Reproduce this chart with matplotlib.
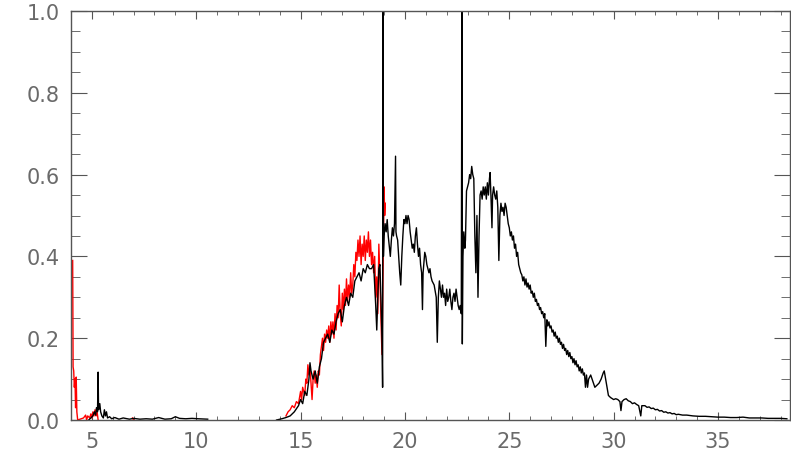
import numpy as np
import matplotlib
matplotlib.use("Agg")
import matplotlib.pyplot as plt
from matplotlib.ticker import MultipleLocator, FormatStrFormatter

nan = np.nan

# black spectrum, short-wavelength piece
black_a_x = [4.85, 4.95, 5.05, 5.12, 5.18, 5.22, 5.27, 5.30, 5.32, 5.38, 5.42, 5.48,
             5.55, 5.60, 5.65, 5.70, 5.75, 5.85, 5.95, 6.1, 6.3, 6.5, 6.8, 7.0, 7.3,
             7.6, 7.9, 8.2, 8.5, 8.8, 9.0, 9.2, 9.5, 9.8, 10.1, 10.55]
black_a_y = [0.0, 0.005, 0.01, 0.02, 0.012, 0.03, 0.02, 0.117, 0.025, 0.04, 0.02, 0.01,
             0.005, 0.025, 0.01, 0.02, 0.005, 0.008, 0.003, 0.006, 0.002, 0.005, 0.002,
             0.004, 0.002, 0.003, 0.002, 0.006, 0.002, 0.003, 0.008, 0.004, 0.003,
             0.004, 0.003, 0.002]

# black spectrum, rise and peak region
black_b_x = [13.85, 14.1, 14.3, 14.5, 14.7, 14.9, 15.0, 15.1, 15.2, 15.3, 15.4, 15.45,
             15.5, 15.6, 15.7, 15.8, 15.9, 16.0, 16.1, 16.2, 16.3, 16.4, 16.5, 16.6,
             16.7, 16.8, 16.9, 17.0, 17.1, 17.2, 17.3, 17.4, 17.5, 17.6, 17.7, 17.8,
             17.9, 18.0, 18.1, 18.2, 18.3, 18.4, 18.5, 18.55, 18.6, 18.65, 18.7, 18.75,
             18.8, 18.85, 18.9, 18.93, 18.95, 18.97, 19.0, 19.05, 19.1, 19.15, 19.2,
             19.3, 19.35, 19.4, 19.45, 19.5, 19.55, 19.57, 19.6, 19.65, 19.7, 19.75,
             19.8, 19.85, 19.9, 19.95, 20.0, 20.05, 20.1, 20.15, 20.2, 20.25, 20.3,
             20.35, 20.4, 20.45, 20.5, 20.55, 20.6, 20.65, 20.7, 20.75, 20.8, 20.84,
             20.87, 20.95, 21.0, 21.05, 21.1, 21.15, 21.2, 21.25, 21.3, 21.4, 21.5,
             21.55, 21.6, 21.65, 21.7, 21.75, 21.8, 21.85, 21.9, 21.95, 22.0, 22.05,
             22.1, 22.15, 22.2, 22.25, 22.3, 22.35, 22.4, 22.45, 22.5, 22.55, 22.6,
             22.65, 22.7, 22.73, 22.75, 22.78, 22.82, 22.87, 22.9, 22.95, 23.0, 23.05,
             23.1, 23.15, 23.2, 23.25, 23.3, 23.35, 23.4, 23.45, 23.5, 23.55, 23.6,
             23.65, 23.7, 23.75, 23.8, 23.85, 23.9, 23.95, 24.0, 24.05, 24.08, 24.12,
             24.17, 24.2, 24.25, 24.3, 24.35, 24.4, 24.45, 24.5, 24.55, 24.6, 24.65,
             24.7, 24.75, 24.8, 24.85, 24.9, 24.95]
black_b_y = [0.0, 0.003, 0.006, 0.01, 0.02, 0.035, 0.05, 0.04, 0.07, 0.06, 0.10, 0.14,
             0.12, 0.10, 0.12, 0.09, 0.13, 0.15, 0.19, 0.20, 0.21, 0.19, 0.22, 0.21,
             0.24, 0.26, 0.27, 0.24, 0.28, 0.30, 0.28, 0.31, 0.30, 0.34, 0.35, 0.36,
             0.34, 0.37, 0.36, 0.38, 0.37, 0.37, 0.38, 0.33, 0.28, 0.22, 0.30, 0.37,
             0.38, 0.30, 0.20, 0.08, 1.0, 0.40, 0.45, 0.48, 0.46, 0.49, 0.45,
             0.40, 0.44, 0.47, 0.45, 0.48, 0.645, 0.46, 0.45, 0.44, 0.40, 0.36,
             0.33, 0.40, 0.45, 0.49, 0.48, 0.50, 0.48, 0.50, 0.49, 0.46, 0.44,
             0.42, 0.43, 0.41, 0.45, 0.47, 0.43, 0.40, 0.42, 0.38, 0.36, 0.27,
             0.36, 0.41, 0.40, 0.38, 0.37, 0.36, 0.37, 0.35, 0.34, 0.33, 0.30,
             0.19, 0.30, 0.34, 0.32, 0.30, 0.33, 0.30, 0.31, 0.28, 0.32, 0.29,
             0.30, 0.32, 0.29, 0.27, 0.30, 0.31, 0.29, 0.32, 0.30, 0.28, 0.27,
             0.28, 0.26, 1.0, 0.186, 0.40, 0.46, 0.42, 0.44, 0.56, 0.57, 0.58,
             0.60, 0.59, 0.62, 0.60, 0.59, 0.45, 0.36, 0.50, 0.30, 0.45, 0.55,
             0.56, 0.54, 0.57, 0.55, 0.57, 0.54, 0.58, 0.55, 0.59, 0.605, 0.55,
             0.47, 0.55, 0.57, 0.55, 0.54, 0.56, 0.52, 0.39, 0.50, 0.53, 0.51,
             0.52, 0.50, 0.53, 0.52, 0.50, 0.48]

# black spectrum, long-wavelength tail
black_c_x = [25.0, 25.05, 25.1, 25.15, 25.2, 25.25, 25.3, 25.35, 25.4, 25.45, 25.5,
             25.55, 25.6, 25.65, 25.7, 25.75, 25.8, 25.85, 25.9, 25.95, 26.0, 26.05,
             26.1, 26.15, 26.2, 26.25, 26.3, 26.35, 26.4, 26.45, 26.5, 26.55, 26.6,
             26.65, 26.7, 26.75, 26.8, 26.85, 26.9, 26.95, 27.0, 27.05, 27.1, 27.15,
             27.2, 27.25, 27.3, 27.35, 27.4, 27.45, 27.5, 27.55, 27.6, 27.65, 27.7,
             27.75, 27.8, 27.85, 27.9, 27.95, 28.0, 28.05, 28.1, 28.15, 28.2, 28.25,
             28.3, 28.35, 28.4, 28.45, 28.5, 28.55, 28.6, 28.65, 28.7, 28.75, 28.8,
             28.9, 29.0, 29.1, 29.2, 29.3, 29.4, 29.5, 29.55, 29.65, 29.75, 29.85,
             30.0, 30.1, 30.2, 30.3, 30.35, 30.4, 30.5, 30.6, 30.7, 30.8, 30.9, 31.0,
             31.1, 31.2, 31.3, 31.35, 31.5, 31.6, 31.7, 31.8, 31.9, 32.0, 32.1, 32.2,
             32.3, 32.4, 32.5, 32.6, 32.7, 32.8, 32.9, 33.0, 33.1, 33.3, 33.5, 33.8,
             34.1, 34.4, 34.7, 35.0, 35.3, 35.6, 35.9, 36.2, 36.5, 36.8, 37.1, 37.4,
             37.7, 38.0, 38.3]
black_c_y = [0.47, 0.45, 0.46, 0.44, 0.45, 0.42, 0.43, 0.40, 0.41, 0.38, 0.37,
             0.36, 0.355, 0.34, 0.35, 0.33, 0.345, 0.325, 0.335, 0.32, 0.33, 0.31,
             0.315, 0.30, 0.31, 0.29, 0.295, 0.28, 0.285, 0.27, 0.275, 0.26, 0.265,
             0.25, 0.26, 0.18, 0.245, 0.23, 0.24, 0.225, 0.23, 0.215, 0.22, 0.205,
             0.215, 0.20, 0.205, 0.19, 0.20, 0.185, 0.19, 0.175, 0.185, 0.17, 0.175,
             0.16, 0.17, 0.155, 0.165, 0.15, 0.155, 0.14, 0.15, 0.135, 0.145, 0.13,
             0.135, 0.12, 0.13, 0.115, 0.125, 0.11, 0.115, 0.08, 0.11, 0.08, 0.10,
             0.11, 0.095, 0.08, 0.085, 0.09, 0.10, 0.115, 0.12, 0.09, 0.06, 0.055,
             0.05, 0.052, 0.05, 0.045, 0.023, 0.045, 0.05, 0.052, 0.047, 0.045, 0.04, 0.042,
             0.038, 0.035, 0.01, 0.035, 0.035, 0.031, 0.032, 0.028, 0.029, 0.025, 0.026, 0.022,
             0.023, 0.019, 0.02, 0.017, 0.018, 0.015, 0.016, 0.013, 0.014, 0.012, 0.012, 0.01,
             0.009, 0.009, 0.008, 0.007, 0.007, 0.006, 0.006, 0.007, 0.005, 0.005, 0.005, 0.004,
             0.004, 0.004, 0.003]

# red spectrum, short-wavelength pieces
red_a_x = [4.08, 4.10, 4.13, 4.16, 4.19, 4.22, 4.25, 4.28, 4.32, 4.6, 4.7, 4.75, 4.8,
           4.9, 4.95, 5.0, 5.05, 5.1, 5.15, 5.2, 5.25, 5.3]
red_a_y = [0.39, 0.13, 0.12, 0.08, 0.10, 0.03, 0.105, 0.02, 0.0, 0.005, 0.012, 0.0, 0.01,
           0.005, 0.015, 0.005, 0.02, 0.01, 0.025, 0.01, 0.02, 0.0]
red_b_x = [6.95, 7.0]
red_b_y = [0.005, 0.0]

# red spectrum, rise region
red_c_x = [14.3, 14.4, 14.5, 14.6, 14.7, 14.8, 14.9, 15.0, 15.05, 15.1, 15.2, 15.25,
           15.3, 15.35, 15.4, 15.45, 15.5, 15.55, 15.6, 15.65, 15.7, 15.75, 15.8, 15.85,
           15.9, 15.95, 16.0, 16.05, 16.1, 16.15, 16.2, 16.25, 16.3, 16.35, 16.4, 16.45,
           16.5, 16.55, 16.6, 16.65, 16.7, 16.75, 16.8, 16.85, 16.9, 16.95, 17.0, 17.05,
           17.1, 17.15, 17.2, 17.25, 17.3, 17.35, 17.4, 17.45, 17.5, 17.55, 17.6, 17.65,
           17.7, 17.75, 17.8, 17.85, 17.9, 17.95, 18.0, 18.05, 18.1, 18.15, 18.2, 18.25,
           18.3, 18.35, 18.4, 18.45, 18.5, 18.55, 18.6, 18.65, 18.7, 18.75, 18.8, 18.85,
           18.9, 18.95, 19.0, 19.03, 19.06]
red_c_y = [0.01, 0.02, 0.025, 0.035, 0.03, 0.045, 0.04, 0.07, 0.05, 0.08, 0.06, 0.10,
           0.09, 0.135, 0.11, 0.13, 0.09, 0.05, 0.10, 0.12, 0.09, 0.11, 0.08, 0.12,
           0.11, 0.16, 0.18, 0.20, 0.17, 0.21, 0.19, 0.22, 0.20, 0.23, 0.19, 0.24,
           0.21, 0.24, 0.20, 0.26, 0.22, 0.28, 0.25, 0.33, 0.26, 0.23, 0.31, 0.27,
           0.32, 0.28, 0.345, 0.29, 0.33, 0.30, 0.36, 0.31, 0.33, 0.38, 0.35, 0.41,
           0.39, 0.44, 0.40, 0.45, 0.38, 0.43, 0.40, 0.45, 0.39, 0.44, 0.41, 0.46,
           0.40, 0.44, 0.38, 0.41, 0.36, 0.40, 0.30, 0.35, 0.26, 0.43, 0.35, 0.25,
           0.16, 0.35, 0.57, 0.50, 0.53]

x_ticks = [5, 10, 15, 20, 25, 30, 35]
y_ticks = [0.0, 0.2, 0.4, 0.6, 0.8, 1.0]

fig = plt.figure(figsize=(7.91, 4.56), dpi=100)
ax = fig.add_axes([71 / 791, 35 / 456, 719 / 791, 409 / 456])

# red pieces are separate, so draw each one on its own
for rx, ry in [(red_a_x, red_a_y), (red_b_x, red_b_y), (red_c_x, red_c_y)]:
    ax.plot(rx, ry, color="red", lw=1.0)

ax.plot(black_a_x, black_a_y, color="black", lw=1.0)
ax.plot(black_b_x + black_c_x, black_b_y + black_c_y, color="black", lw=1.0)

ax.set_xlim(4.0, 38.45)
ax.set_ylim(0.0, 1.0)

ax.set_xticks(x_ticks)
ax.set_yticks(y_ticks)
ax.xaxis.set_minor_locator(MultipleLocator(1))
ax.yaxis.set_minor_locator(MultipleLocator(0.05))
ax.yaxis.set_major_formatter(FormatStrFormatter("%.1f"))

axis_grey = "#555555"
for s in ax.spines.values():
    s.set_color(axis_grey)
    s.set_linewidth(1.0)

ax.tick_params(axis="both", which="both", direction="in", top=True, right=True,
               color=axis_grey, labelcolor="#6a6a6a", labelsize=15)
ax.tick_params(axis="x", which="major", length=6, pad=8)
ax.tick_params(axis="x", which="minor", length=3)
ax.tick_params(axis="y", which="major", length=11.5, pad=8)
ax.tick_params(axis="y", which="minor", length=6.5)

fig.savefig("out.png", dpi=100)
